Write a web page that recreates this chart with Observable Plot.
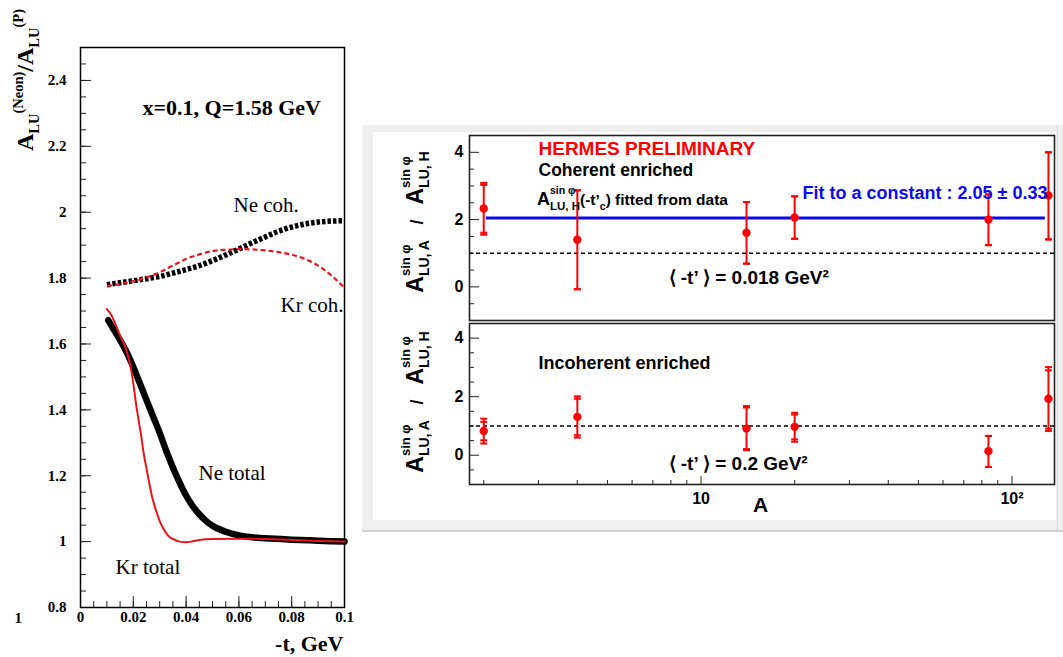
<!DOCTYPE html>
<html><head><meta charset="utf-8">
<script src="https://cdn.jsdelivr.net/npm/d3@7"></script>
<script src="https://cdn.jsdelivr.net/npm/@observablehq/plot@0.6"></script>
<style>
body{margin:0;background:#fff;}
#root{position:relative;width:1063px;height:657px;overflow:hidden;background:#fff;}
</style></head><body><div id="root"></div>
<script>
// ---------------- LEFT CHART DATA ----------------
const cohT   = [0.010,0.015,0.020,0.025,0.030,0.035,0.040,0.045,0.050,0.055,0.060,0.065,0.070,0.075,0.080,0.085,0.090,0.095,0.100];
const neCohV = [1.780,1.786,1.792,1.798,1.805,1.815,1.826,1.838,1.853,1.870,1.888,1.907,1.925,1.942,1.955,1.964,1.970,1.973,1.974];
const krCohV = [1.776,1.782,1.790,1.802,1.818,1.838,1.858,1.872,1.882,1.886,1.888,1.887,1.884,1.879,1.871,1.858,1.838,1.808,1.770];
const neTotT = [0.0105,0.0125,0.015,0.0175,0.020,0.0225,0.025,0.0275,0.030,0.0325,0.035,0.0375,0.040,0.0425,0.045,0.0475,0.050,0.055,0.060,0.065,0.070,0.080,0.090,0.100];
const neTotV = [1.672,1.645,1.612,1.575,1.530,1.480,1.430,1.380,1.330,1.275,1.225,1.180,1.140,1.108,1.083,1.063,1.048,1.030,1.019,1.013,1.010,1.006,1.003,1.000];
const krTotT = [0.010,0.0115,0.013,0.015,0.0175,0.019,0.020,0.021,0.022,0.023,0.024,0.025,0.026,0.027,0.028,0.029,0.030,0.0315,0.033,0.035,0.0375,0.040,0.0425,0.045,0.050,0.060,0.070,0.080,0.090,0.100];
const krTotV = [1.706,1.690,1.665,1.625,1.578,1.530,1.480,1.420,1.370,1.320,1.265,1.222,1.180,1.140,1.110,1.085,1.062,1.038,1.020,1.008,1.000,0.998,1.001,1.005,1.008,1.009,1.008,1.005,1.002,1.000];
const leftYTicks  = [0.8,1.0,1.2,1.4,1.6,1.8,2.0,2.2,2.4];
const leftYLabels = ["0.8","1","1.2","1.4","1.6","1.8","2","2.2","2.4"];
const leftXTicks  = [0,0.02,0.04,0.06,0.08,0.1];
const leftXLabels = ["0","0.02","0.04","0.06","0.08","0.1"];
const leftYMinor  = d3.range(0.85,2.5,0.05);
const leftXMinor  = d3.range(0.005,0.1,0.005);

// ---------------- RIGHT CHART DATA ----------------
const nuclei   = [2, 4, 14, 20, 84, 131];
const cohVal   = [2.33, 1.40, 1.61, 2.06, 2.00, 2.72];
const cohLoOut = [1.55, -0.07, 0.69, 1.43, 1.24, 1.41];
const cohHiOut = [3.09, 2.87, 2.52, 2.69, 2.75, 4.00];
const cohLoIn  = [1.61, -0.07, 0.69, 1.43, 1.24, 1.41];
const cohHiIn  = [3.03, 2.87, 2.52, 2.69, 2.75, 4.00];
const incVal   = [0.83, 1.31, 0.91, 0.97, 0.14, 1.93];
const incLoOut = [0.40, 0.60, 0.17, 0.46, -0.40, 0.83];
const incHiOut = [1.25, 2.01, 1.68, 1.45, 0.66, 3.01];
const incLoIn  = [0.51, 0.68, 0.21, 0.54, -0.40, 0.91];
const incHiIn  = [1.14, 1.93, 1.63, 1.39, 0.66, 2.90];
const fitValue = 2.05, fitFrom = 2.04, fitTo = 128;
const rightYTicks = [0, 2, 4];
const rightYLabels = ["0", "2", "4"];
const rightYMinor = [-0.5, 0.5, 1, 1.5, 2.5, 3, 3.5];
const rightXTicks = [10, 100];
const rightXLabels = ["10", "10²"];
const rightXMinor = [2,3,4,5,6,7,8,9,20,30,40,50,60,70,80,90];

// ---------------- HELPERS ----------------
const root = document.getElementById("root");
const serif = "'Liberation Serif','Times New Roman',serif";
const sans  = "'Liberation Sans',Arial,Helvetica,sans-serif";
function box(x0, y0, w, h, bg) {
  const d = document.createElement("div");
  d.style.cssText = `position:absolute;left:${x0}px;top:${y0}px;width:${w}px;height:${h}px;background:${bg};`;
  root.appendChild(d);
}
function place(node, x0, y0, w) {
  const d = document.createElement("div");
  d.style.cssText = `position:absolute;left:${x0}px;top:${y0}px;width:${w}px;`;
  d.appendChild(node); root.appendChild(d); return node;
}
const mctx = document.createElement("canvas").getContext("2d");
function measure(t, size, family, weight) { mctx.font = `${weight} ${size}px ${family}`; return mctx.measureText(t).width; }
function richText(svg, {x, y, rotate = 0, anchor = "start", family, weight = "bold", fill = "#000"}, segs) {
  const g = d3.select(svg).append("g").attr("font-family", family).attr("font-weight", weight)
    .attr("fill", fill).attr("text-anchor", "start");
  const inner = g.append("g");
  let cursor = 0, prevStart = 0;
  for (const s of segs) {
    const start = s.stack ? prevStart : cursor;
    inner.append("text").attr("x", start).attr("y", s.shift || 0).attr("text-anchor", "start")
      .attr("font-size", s.size).style("white-space", "pre").text(s.t);
    const w = measure(s.t, s.size, family, weight);
    if (s.stack) cursor = Math.max(cursor, start + w);
    else { prevStart = start; cursor = start + w; }
  }
  const off = anchor === "middle" ? -cursor / 2 : anchor === "end" ? -cursor : 0;
  inner.attr("transform", `translate(${off},0)`);
  g.attr("transform", `translate(${x},${y}) rotate(${rotate})`);
}
const capSymbol = {draw(ctx, size) { const r = Math.sqrt(size / Math.PI); ctx.moveTo(-r, 0); ctx.lineTo(r, 0); }};

// ---------------- LEFT CHART ----------------
const LW = 358, LH = 657, LML = 80, LMR = 14, LMT = 47, LMB = 50;
const lpw = LW - LML - LMR, lph = LH - LMT - LMB;
const zip = (T, V) => T.map((t, i) => ({t, v: V[i]}));
const txtL = {fontFamily: serif, fill: "#000", frameAnchor: "top-left", textAnchor: "start", lineAnchor: "middle"};
const leftPlot = Plot.plot({
  width: LW, height: LH, marginLeft: LML, marginRight: LMR, marginTop: LMT, marginBottom: LMB,
  x: {domain: [0, 0.1], axis: null},
  y: {domain: [0.8, 2.5], axis: null},
  style: {background: "transparent", fontFamily: serif, overflow: "hidden"},
  marks: [
    Plot.tickY(leftYMinor, {y: d => d, insetRight: lpw - 6, stroke: "#222"}),
    Plot.tickY(leftYTicks, {y: d => d, insetRight: lpw - 11, stroke: "#222"}),
    Plot.tickX(leftXMinor, {x: d => d, insetTop: lph - 6, stroke: "#222"}),
    Plot.tickX(leftXTicks, {x: d => d, insetTop: lph - 11, stroke: "#222"}),
    Plot.frame({stroke: "#000", strokeWidth: 1.5}),
    Plot.axisY({ticks: leftYTicks, tickSize: 0, tickPadding: 14, tickFormat: d => leftYLabels[leftYTicks.indexOf(d)], fontSize: 15, fontWeight: "bold", label: null}),
    Plot.axisX({ticks: leftXTicks, tickSize: 0, tickPadding: 4, tickFormat: d => leftXLabels[leftXTicks.indexOf(d)], fontSize: 15, fontWeight: "bold", label: null}),
    Plot.line(zip(cohT, neCohV), {x: "t", y: "v", stroke: "#000", strokeWidth: 5.5, strokeDasharray: "3.5,2", strokeLinecap: "butt", curve: "monotone-x"}),
    Plot.line(zip(cohT, krCohV), {x: "t", y: "v", stroke: "#e8141c", strokeWidth: 2.2, strokeDasharray: "5,3", strokeLinecap: "butt", curve: "monotone-x"}),
    Plot.line(zip(neTotT, neTotV), {x: "t", y: "v", stroke: "#000", strokeWidth: 6.5, curve: "monotone-x"}),
    Plot.line(zip(krTotT, krTotV), {x: "t", y: "v", stroke: "#e8141c", strokeWidth: 2, curve: "monotone-x"}),
    Plot.text(["x=0.1, Q=1.58 GeV"], {...txtL, text: d => d, dx: 62, dy: 60, fontSize: 22, fontWeight: "bold"}),
    Plot.text(["Ne coh."], {...txtL, text: d => d, dx: 153, dy: 158, fontSize: 21}),
    Plot.text(["Kr coh."], {...txtL, text: d => d, dx: 200, dy: 258, fontSize: 21}),
    Plot.text(["Ne total"], {...txtL, text: d => d, dx: 118, dy: 426, fontSize: 21}),
    Plot.text(["Kr total"], {...txtL, text: d => d, dx: 35, dy: 520, fontSize: 21}),
    Plot.text(["1"], {...txtL, frameAnchor: "bottom-left", text: d => d, dx: -66, dy: 11, fontSize: 15, fontWeight: "bold"}),
    Plot.text(["-t, GeV"], {...txtL, frameAnchor: "bottom-right", textAnchor: "end", text: d => d, dx: -1, dy: 36, fontSize: 22, fontWeight: "bold"})
  ]
});
place(leftPlot, 0, 0, LW);
richText(leftPlot, {x: 33, y: 80, rotate: -90, anchor: "middle", family: serif}, [
  {t: "A", size: 24}, {t: "LU", size: 14.5, shift: 6}, {t: "(Neon)", size: 14.5, shift: -10},
  {t: "/A", size: 24}, {t: "LU", size: 14.5, shift: 6}, {t: "(P)", size: 14.5, shift: -10}
]);

// ---------------- RIGHT CHART ----------------
box(362, 125, 701, 405, "#efefef");
box(373, 132, 683, 388, "#ffffff");
box(1057, 125, 1, 405, "#d6d6d6");
box(362, 530, 701, 2, "#d0d0d0");

const RW = 700, RML = 106, RMR = 9;
const rpw = RW - RML - RMR;
const RED = "#ff0000";
const mk = (V, LO, HI, LI, HII) => nuclei.map((A, i) => ({A, v: V[i], lo: LO[i], hi: HI[i], li: LI[i], hii: HII[i]}));
const cohData = mk(cohVal, cohLoOut, cohHiOut, cohLoIn, cohHiIn);
const incData = mk(incVal, incLoOut, incHiOut, incLoIn, incHiIn);
const txtR = {fontFamily: sans, fontWeight: "bold", fill: "#000", frameAnchor: "top-left", textAnchor: "start", lineAnchor: "middle"};
function frameMarks() {
  return [
    Plot.tickY(rightYMinor, {y: d => d, insetRight: rpw - 5, stroke: "#222"}),
    Plot.tickY(rightYTicks, {y: d => d, insetRight: rpw - 10, stroke: "#222"}),
    Plot.ruleY([1], {y: d => d, stroke: "#000", strokeWidth: 1.5, strokeDasharray: "4,3"}),
    Plot.frame({stroke: "#222", strokeWidth: 1.6}),
    Plot.axisY({ticks: rightYTicks, tickSize: 0, tickPadding: 6, tickFormat: d => rightYLabels[rightYTicks.indexOf(d)], fontSize: 16, fontWeight: "bold", label: null, fontFamily: sans})
  ];
}
function dataMarks(data) {
  return [
    Plot.ruleX(data, {x: "A", y1: "lo", y2: "hi", stroke: RED, strokeWidth: 2}),
    ...["lo", "hi", "li", "hii"].map(k => Plot.dot(data, {x: "A", y: k, symbol: capSymbol, r: 3.5, fill: "none", stroke: RED, strokeWidth: 2})),
    Plot.dot(data, {x: "A", y: "v", r: 4.2, fill: RED, stroke: "none"})
  ];
}
const topH = 200;
const topPlot = Plot.plot({
  width: RW, height: topH, marginLeft: RML, marginRight: RMR, marginTop: 10, marginBottom: 5,
  x: {type: "log", domain: [1.8, 137], axis: null},
  y: {domain: [-1, 4.5], axis: null},
  style: {background: "transparent", fontFamily: sans, overflow: "visible"},
  marks: [
    ...frameMarks(),
    Plot.ruleY([{y: fitValue, x1: fitFrom, x2: fitTo}], {y: "y", x1: "x1", x2: "x2", stroke: "#0a0af0", strokeWidth: 3}),
    ...dataMarks(cohData),
    Plot.text(["HERMES PRELIMINARY"], {...txtR, text: d => d, dx: 69, dy: 13, fontSize: 19, fill: RED}),
    Plot.text(["Coherent enriched"], {...txtR, text: d => d, dx: 69, dy: 35, fontSize: 17.5}),
    Plot.text(["Fit to a constant : 2.05 ± 0.33"], {...txtR, text: d => d, dx: 333, dy: 58, fontSize: 18, fill: "#0a0af0"}),
    Plot.text(["⟨ -t’ ⟩ = 0.018 GeV²"], {...txtR, text: d => d, dx: 199, dy: 142, fontSize: 19})
  ]
});
place(topPlot, 363, 125, RW);

const botH = 210, botMB = 44;
const botPH = botH - 5 - botMB;
const bottomPlot = Plot.plot({
  width: RW, height: botH, marginLeft: RML, marginRight: RMR, marginTop: 5, marginBottom: botMB,
  x: {type: "log", domain: [1.8, 137], axis: null},
  y: {domain: [-1, 4.5], axis: null},
  style: {background: "transparent", fontFamily: sans, overflow: "visible"},
  marks: [
    ...frameMarks(),
    Plot.tickX(rightXMinor, {x: d => d, insetTop: botPH - 4, stroke: "#222"}),
    Plot.tickX(rightXTicks, {x: d => d, insetTop: botPH - 8, stroke: "#222"}),
    Plot.axisX({ticks: rightXTicks, tickSize: 0, tickPadding: 8, tickFormat: d => rightXLabels[rightXTicks.indexOf(d)], fontSize: 16, fontWeight: "bold", label: null, fontFamily: sans}),
    ...dataMarks(incData),
    Plot.text(["A"], {...txtR, frameAnchor: "bottom-left", textAnchor: "middle", text: d => d, dx: 291, dy: 21, fontSize: 21}),
    Plot.text(["Incoherent enriched"], {...txtR, text: d => d, dx: 69, dy: 40, fontSize: 18}),
    Plot.text(["⟨ -t’ ⟩ = 0.2 GeV²"], {...txtR, text: d => d, dx: 199, dy: 140, fontSize: 19})
  ]
});
place(bottomPlot, 363, 318, RW);

const yTitleSegs = (sub1, sub2) => [
  {t: "A", size: 23}, {t: "sin φ", size: 13, shift: -13}, {t: sub1, size: 14, shift: 6, stack: true},
  {t: "   /   ", size: 18},
  {t: "A", size: 23}, {t: "sin φ", size: 13, shift: -13}, {t: sub2, size: 14, shift: 6, stack: true}
];
richText(topPlot, {x: 60, y: 97, rotate: -90, anchor: "middle", family: sans}, yTitleSegs("LU, A", "LU, H"));
richText(bottomPlot, {x: 60, y: 84, rotate: -90, anchor: "middle", family: sans}, yTitleSegs("LU, A", "LU, H"));
richText(topPlot, {x: 174, y: 80, family: sans}, [
  {t: "A", size: 18}, {t: "sin φ", size: 10.5, shift: -11}, {t: "LU, H", size: 11.5, shift: 5, stack: true},
  {t: "(-t’", size: 15.5}, {t: "c", size: 10.5, shift: 5}, {t: ") fitted from data", size: 15.5}
]);
</script></body></html>
